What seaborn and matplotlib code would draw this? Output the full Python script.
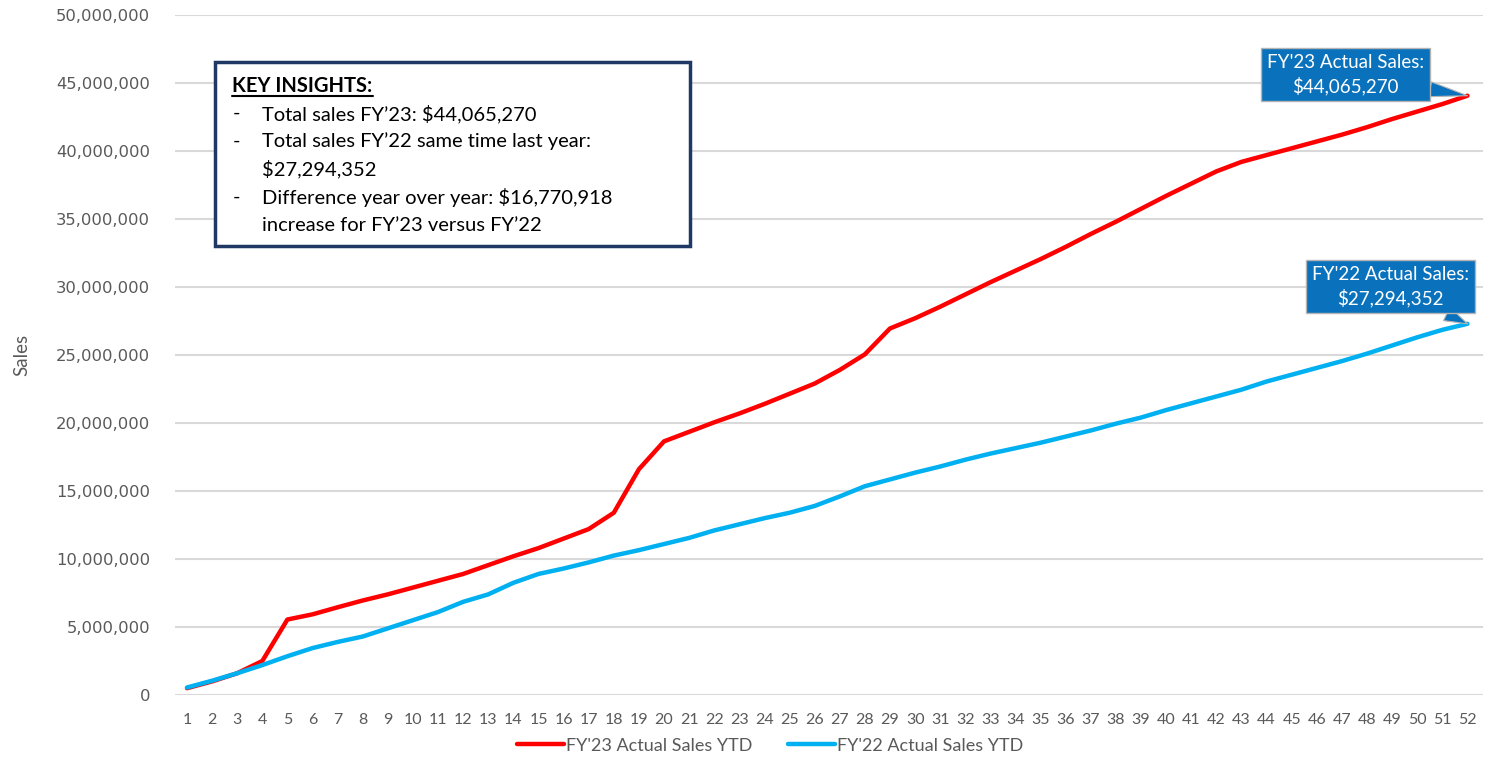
import matplotlib
matplotlib.use("Agg")
import matplotlib.pyplot as plt
from matplotlib.lines import Line2D
from matplotlib.patches import Rectangle
from matplotlib.ticker import FuncFormatter, MultipleLocator
import pandas as pd
import seaborn as sns

# ---- data ----
weeks = list(range(1, 53))

fy23_sales = [
    500000, 1000000, 1600000, 2500000, 5550000, 5930000, 6450000, 6950000, 7400000, 7900000,
    8400000, 8900000, 9550000, 10200000, 10800000, 11500000, 12200000, 13400000, 16600000, 18650000,
    19350000, 20050000, 20700000, 21400000, 22150000, 22900000, 23900000, 25050000, 26950000, 27700000,
    28550000, 29450000, 30350000, 31200000, 32050000, 32950000, 33900000, 34800000, 35750000, 36700000,
    37600000, 38500000, 39200000, 39700000, 40200000, 40700000, 41200000, 41750000, 42350000, 42900000,
    43450000, 44065270,
]

fy22_sales = [
    550000, 1050000, 1600000, 2200000, 2850000, 3450000, 3900000, 4300000, 4900000, 5500000,
    6100000, 6850000, 7400000, 8250000, 8900000, 9300000, 9750000, 10250000, 10650000, 11100000,
    11550000, 12100000, 12550000, 13000000, 13400000, 13900000, 14600000, 15350000, 15850000, 16350000,
    16800000, 17300000, 17750000, 18150000, 18550000, 19000000, 19450000, 19950000, 20400000, 20950000,
    21450000, 21950000, 22450000, 23050000, 23550000, 24050000, 24550000, 25100000, 25700000, 26300000,
    26850000, 27294352,
]

series_names = ["FY'23 Actual Sales YTD", "FY'22 Actual Sales YTD"]
callout_titles = ["FY'23 Actual Sales:", "FY'22 Actual Sales:"]
series_colors = ["#FF0000", "#00B0F0"]

insight_title = "KEY INSIGHTS:"
insight_lines = [
    ("-", "Total sales FY\u201923: $44,065,270"),
    ("-", "Total sales FY\u201922 same time last year:"),
    ("", "$27,294,352"),
    ("-", "Difference year over year: $16,770,918"),
    ("", "increase for FY\u201923 versus FY\u201922"),
]

df = pd.DataFrame({
    "Week": weeks * 2,
    "Sales": fy23_sales + fy22_sales,
    "Series": [series_names[0]] * len(weeks) + [series_names[1]] * len(weeks),
})

# ---- style ----
sns.set_theme(style="white")
plt.rcParams["font.family"] = ["Lato", "DejaVu Sans"]

GRAY = "#595959"
GRID = "#D9D9D9"
CALLOUT = "#0A72BC"
NAVY = "#1F3864"

fig = plt.figure(figsize=(14.9, 7.57), dpi=100)
ax = fig.add_axes([0.1174, 0.0819, 0.8779, 0.8983])

sns.lineplot(data=df, x="Week", y="Sales", hue="Series", hue_order=series_names,
             palette=series_colors, linewidth=3.2, ax=ax, legend=False)

ax.set_xlim(0.52, 52.62)
ax.set_ylim(0, 50000000)
ax.xaxis.set_major_locator(MultipleLocator(1))
ax.yaxis.set_major_locator(MultipleLocator(5000000))
ax.yaxis.set_major_formatter(FuncFormatter(lambda v, p: f"{v:,.0f}"))
ax.grid(axis="y", color=GRID, linewidth=1.5)
ax.set_axisbelow(True)
for s in ax.spines.values():
    s.set_visible(False)
ax.tick_params(axis="both", length=0, colors=GRAY)
for t in ax.get_yticklabels():
    t.set_fontfamily("DejaVu Sans")
    t.set_fontsize(11.8)
for t in ax.get_xticklabels():
    t.set_fontsize(11.5)
ax.tick_params(axis="x", pad=13)
ax.tick_params(axis="y", pad=18)
ax.set_xlabel("")
ax.set_ylabel("Sales", color=GRAY, fontsize=13.5, labelpad=18)

# ---- callouts at the last week ----
offsets = [(-122, 21), (-77, 37)]
for vals, title, off in zip([fy23_sales, fy22_sales], callout_titles, offsets):
    ax.annotate(f"{title}\n${vals[-1]:,.0f}", xy=(weeks[-1], vals[-1]),
                xytext=off, textcoords="offset pixels", ha="center", va="center",
                color="white", fontsize=13.5, linespacing=1.4,
                bbox=dict(boxstyle="square,pad=0.3", fc=CALLOUT, ec="#B4B4B4", lw=1),
                arrowprops=dict(arrowstyle="wedge,tail_width=0.8", fc=CALLOUT, ec="#B4B4B4",
                                lw=0.8, shrinkA=0, shrinkB=0))

# ---- key insights box ----
box = Rectangle((0.0306, 0.660), 0.3634, 0.271, transform=ax.transAxes,
                fc="white", ec=NAVY, lw=2.5, zorder=5)
ax.add_patch(box)
title_txt = ax.text(0.044, 0.895, insight_title, transform=ax.transAxes, fontsize=14.5,
                    fontweight="bold", color="black", va="center", zorder=6)
row_y = 0.855
for bullet, line in insight_lines:
    if bullet:
        ax.text(0.044, row_y, bullet, transform=ax.transAxes, fontsize=14.5,
                color="black", va="center", zorder=6)
    ax.text(0.0665, row_y, line, transform=ax.transAxes, fontsize=14.5,
            color="black", va="center", zorder=6)
    row_y -= 0.0410

# ---- legend ----
handles = [Line2D([0], [0], color=c, lw=3.2) for c in series_colors]
fig.legend(handles, series_names, loc="center", bbox_to_anchor=(0.517, 0.015), ncol=2,
           frameon=False, fontsize=13, handlelength=2.6, columnspacing=2.0,
           handletextpad=0.1, labelcolor=GRAY)

# underline the box title
fig.canvas.draw()
bb = title_txt.get_window_extent().transformed(fig.transFigure.inverted())
fig.add_artist(Line2D([bb.x0, bb.x1], [bb.y0 + 0.001, bb.y0 + 0.001],
                      transform=fig.transFigure, color="black", lw=1.5, zorder=7))

fig.savefig("out.png", dpi=100)
